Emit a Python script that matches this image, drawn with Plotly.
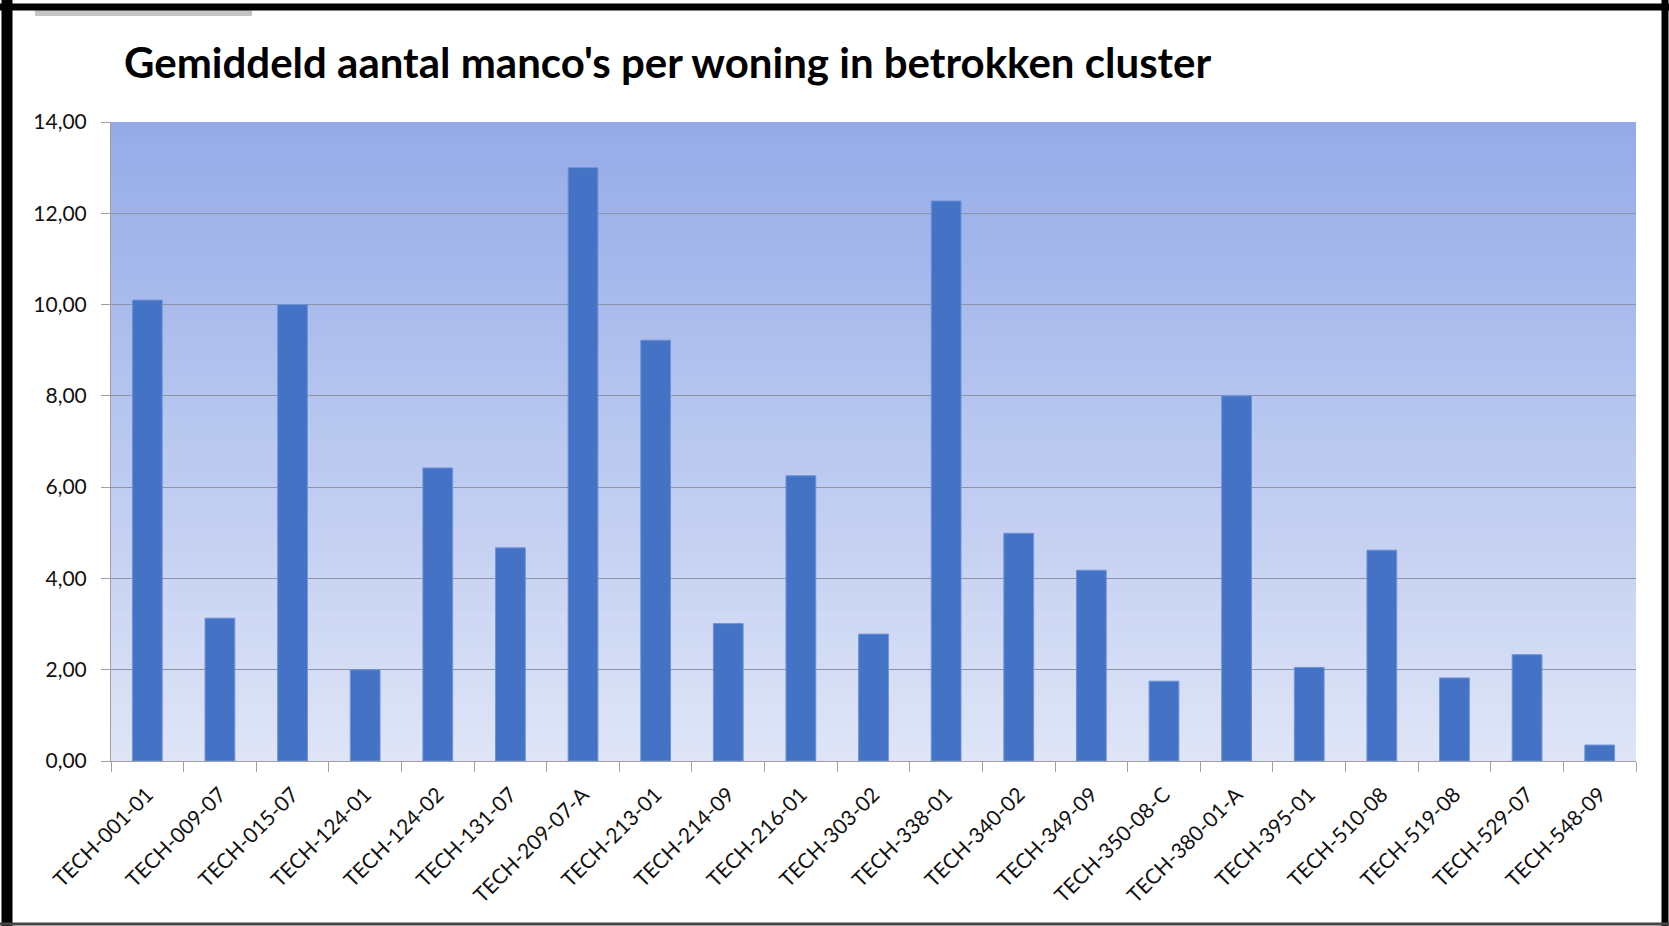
import plotly.graph_objects as go

# clusters and average number of defects per dwelling
clusters = ['TECH-001-01', 'TECH-009-07', 'TECH-015-07', 'TECH-124-01', 'TECH-124-02',
            'TECH-131-07', 'TECH-209-07-A', 'TECH-213-01', 'TECH-214-09', 'TECH-216-01',
            'TECH-303-02', 'TECH-338-01', 'TECH-340-02', 'TECH-349-09', 'TECH-350-08-C',
            'TECH-380-01-A', 'TECH-395-01', 'TECH-510-08', 'TECH-519-08', 'TECH-529-07',
            'TECH-548-09']
manco = [10.10, 3.13, 10.00, 2.00, 6.42, 4.67, 13.00, 9.22, 3.01, 6.25, 2.78,
         12.27, 4.99, 4.18, 1.75, 8.00, 2.05, 4.62, 1.82, 2.33, 0.35]

W, H = 1669, 926
L, R, T, B = 111, 33, 122, 165
pw = W - L - R
ph = H - T - B

fig = go.Figure()
fig.add_trace(go.Bar(x=clusters, y=manco,
                     marker=dict(color='#4472C4', line=dict(color='#6f93d8', width=1))))

# gradient background, each strip overlaps the ones below it (no seams)
shapes = []
n = 60
top = (149, 171, 232)
bot = (223, 229, 247)
for i in range(n):
    f = i / (n - 1)
    c = tuple(int(round(bot[k] + (top[k] - bot[k]) * f)) for k in range(3))
    shapes.append(dict(type='rect', xref='x domain', yref='y domain',
                       x0=0, x1=1, y0=i / n, y1=1,
                       fillcolor='rgb(%d,%d,%d)' % c, line=dict(width=0), layer='below'))


def px_x(p):
    return (p - L) / pw


def px_y(p):
    return (H - B - p) / ph


# frame around the picture
shapes.append(dict(type='rect', xref='paper', yref='paper',
                   x0=px_x(35), x1=px_x(252), y0=px_y(16), y1=px_y(9),
                   fillcolor='#c4c4c4', line=dict(width=0)))
shapes.append(dict(type='line', xref='paper', yref='paper', x0=px_x(0), x1=px_x(W),
                   y0=px_y(7), y1=px_y(7), line=dict(color='black', width=7)))
shapes.append(dict(type='line', xref='paper', yref='paper', x0=px_x(7), x1=px_x(7),
                   y0=px_y(0), y1=px_y(H), line=dict(color='black', width=11)))
shapes.append(dict(type='line', xref='paper', yref='paper', x0=px_x(1665), x1=px_x(1665),
                   y0=px_y(0), y1=px_y(H), line=dict(color='black', width=7)))
shapes.append(dict(type='line', xref='paper', yref='paper', x0=px_x(0), x1=px_x(W),
                   y0=px_y(924), y1=px_y(924), line=dict(color='#444444', width=3)))

fig.update_layout(
    width=W, height=H,
    margin=dict(l=L, r=R, t=T, b=B),
    paper_bgcolor='white',
    plot_bgcolor='rgb(223,229,247)',
    separators=',.',
    showlegend=False,
    bargap=0.59,
    shapes=shapes,
    title=dict(text="<b>Gemiddeld aantal manco's per woning in betrokken cluster</b>",
               x=124 / W, xanchor='left', y=1 - 63 / H, yanchor='middle',
               font=dict(family='Lato', size=42, color='black')),
    font=dict(family='Lato', size=21, color='#111111'),
)
fig.update_xaxes(tickangle=-45, ticks='outside', tickson='boundaries', ticklen=10,
                 tickcolor='#a0a0a0', showline=True, linecolor='#a0a0a0', linewidth=1,
                 showgrid=False, ticklabelstandoff=12, tickfont=dict(size=21))
fig.update_yaxes(range=[0, 14], dtick=2, tickformat='.2f', ticks='outside', ticklen=9,
                 tickcolor='#a0a0a0', showline=True, linecolor='#a0a0a0', linewidth=1,
                 gridcolor='#8d93a6', gridwidth=1, zeroline=False, ticklabelstandoff=10,
                 tickfont=dict(size=21))

fig.write_html("out.html", config={'displayModeBar': False},
               post_script="document.body.style.margin='0';document.body.style.overflow='hidden';")
